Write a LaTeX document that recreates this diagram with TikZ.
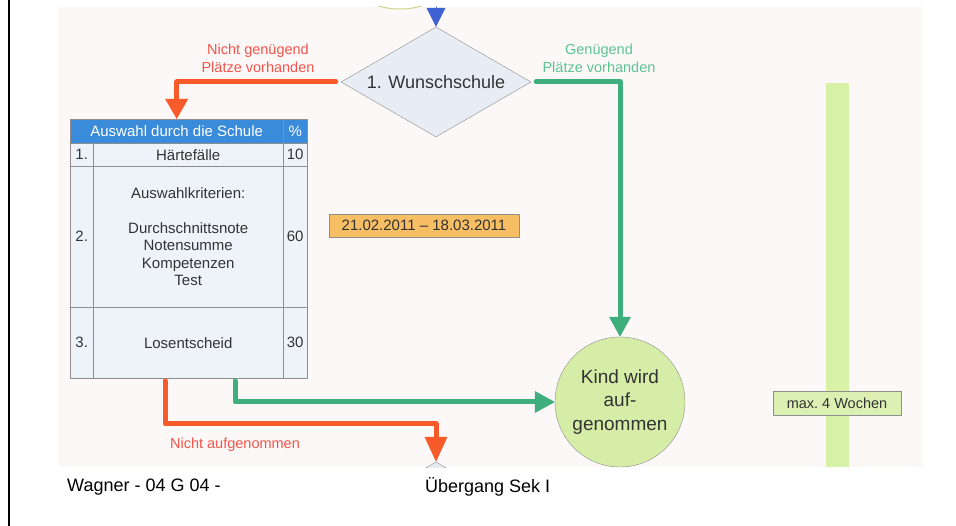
\documentclass[tikz,border=0pt]{standalone}
\usepackage{fontspec}
\setmainfont{Liberation Sans}
\usetikzlibrary{shapes,arrows.meta}

\definecolor{papier}{HTML}{FCF8F8}
\definecolor{pfeilrot}{HTML}{F75B2A}
\definecolor{textrot}{HTML}{F2554B}
\definecolor{pfeilgruen}{HTML}{3FAE7D}
\definecolor{textgruen}{HTML}{5DC393}
\definecolor{kopfblau}{HTML}{3B8BDB}
\definecolor{zellblau}{HTML}{EEF3FA}
\definecolor{linie}{HTML}{8E8E8E}
\definecolor{rautenblau}{HTML}{E8EDF5}
\definecolor{datumgelb}{HTML}{F7BE64}
\definecolor{kreisgruen}{HTML}{D5EDA7}
\definecolor{balken}{HTML}{D7F2A6}
\definecolor{boxgruen}{HTML}{DCF0B4}
\definecolor{ellgelb}{HTML}{D2D28C}
\definecolor{pfeilblau}{HTML}{4162D3}
\definecolor{schrift}{HTML}{333333}

\begin{document}
\begin{tikzpicture}[x=1pt,y=-1pt,line join=round,line cap=round]
\tikzstyle{zelle}=[rectangle,draw=linie,fill=zellblau,inner sep=0pt,anchor=north west,text=schrift,align=center,font=\fontsize{15}{17.5}\selectfont]
\tikzstyle{kopf}=[zelle,fill=kopfblau,text=white]
\tikzstyle{raute}=[diamond,aspect=1.7,draw=linie,fill=rautenblau,minimum width=190pt,minimum height=110pt,inner sep=0pt,text=schrift,font=\fontsize{18}{20}\selectfont]
\tikzstyle{rot}=[draw=pfeilrot,line width=5pt,-{Triangle[width=23pt,length=20pt,line width=0pt]}]
\tikzstyle{gruen}=[draw=pfeilgruen,line width=5pt,-{Triangle[width=22pt,length=20pt,line width=0pt]}]
\tikzstyle{lbl}=[align=center,inner sep=0pt,font=\fontsize{14.5}{18}\selectfont]
\useasboundingbox (0,0) rectangle (956,526);
\draw[line width=2pt] (9,0) -- (9,526);
\fill[papier] (58,7) rectangle (923,467);
\begin{scope}
  \clip (58,7) rectangle (923,467);
  \node[ellipse,draw=ellgelb,line width=1pt,fill=white,minimum width=80pt,minimum height=38pt] (start) at (400,-10) {};
  \node[raute] (weiter) at (436,517) {};
\end{scope}
\fill[balken] (826,83) rectangle (849,467);

\node[raute] (dia) at (436,82) {1. Wunschschule};

% Tabelle
\node[kopf,minimum width=213pt,minimum height=24pt] (kopf)  at (70,119)  {Auswahl durch die Schule};
\node[kopf,minimum width=24pt, minimum height=24pt] (kopfp) at (283,119) {\%};
\node[zelle,minimum width=23pt, minimum height=23pt] (n1) at (70,143)  {1.};
\node[zelle,minimum width=190pt,minimum height=23pt] (t1) at (93,143)  {Härtefälle};
\node[zelle,minimum width=24pt, minimum height=23pt] (p1) at (283,143) {10};
\node[zelle,minimum width=23pt, minimum height=141pt] (n2) at (70,166)  {2.};
\node[zelle,minimum width=190pt,minimum height=141pt] (t2) at (93,166)  {Auswahlkriterien:\\[17.5pt]Durchschnittsnote\\Notensumme\\Kompetenzen\\Test};
\node[zelle,minimum width=24pt, minimum height=141pt] (p2) at (283,166) {60};
\node[zelle,minimum width=23pt, minimum height=71pt] (n3) at (70,307)  {3.};
\node[zelle,minimum width=190pt,minimum height=71pt] (t3) at (93,307)  {Losentscheid};
\node[zelle,minimum width=24pt, minimum height=71pt] (p3) at (283,307) {30};

\node[draw=linie,fill=datumgelb,text=schrift,minimum width=190pt,minimum height=23pt,inner sep=0pt,font=\fontsize{15}{17}\selectfont] (datum) at (424,225.5) {21.02.2011 – 18.03.2011};
\node[circle,draw=linie,fill=kreisgruen,text=schrift,minimum size=130pt,inner sep=0pt,align=center,font=\fontsize{19}{23.5}\selectfont] (kind) at (620,402) {Kind wird\\auf-\\genommen};
\node[draw=linie,fill=boxgruen,text=schrift,minimum width=128pt,minimum height=24pt,inner sep=0pt,font=\fontsize{14.5}{16}\selectfont] (dauer) at (837,403) {max.\ 4 Wochen};

\node[lbl,text=textrot]   (nichtgen) at (258,58)  {Nicht genügend\\Plätze vorhanden};
\node[lbl,text=textgruen] (gen)      at (599,58)  {Genügend\\Plätze vorhanden};
\node[lbl,text=textrot]   (nichtauf) at (235,445) {Nicht aufgenommen};

\coordinate (oben) at (436,7);
\coordinate (abr)  at (165,381);
\coordinate (abg)  at (235,381);
\draw[draw=pfeilblau,line width=1pt,-{Triangle[width=19pt,length=19pt,line width=0pt]}] (oben) -- (dia.north);
\draw[rot] ([xshift=-5pt]dia.west) -| (kopf.north);
\draw[gruen] ([xshift=5pt]dia.east) -| (kind.north);
\draw[gruen] (abg) |- (kind.west);
\draw[rot,-{Triangle[width=23pt,length=25pt,line width=0pt]}] (abr) -- ++(0,43) -| (weiter.north);

\node[anchor=west,inner sep=0pt,font=\fontsize{18}{20}\selectfont] (fuss1) at (67,487)  {Wagner - 04 G 04 -};
\node[anchor=west,inner sep=0pt,font=\fontsize{18}{20}\selectfont] (fuss2) at (425,487) {Übergang Sek I};
\end{tikzpicture}
\end{document}
